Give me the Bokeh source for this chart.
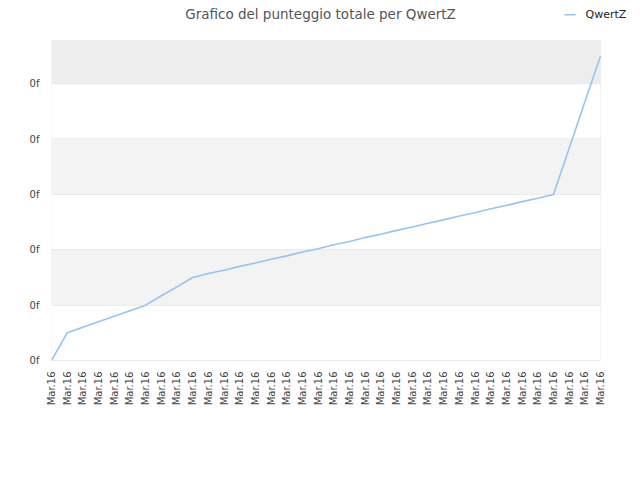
import math
from bokeh.plotting import figure
from bokeh.models import (ColumnDataSource, FixedTicker, BoxAnnotation, Label,
                          Range1d)
from bokeh.embed import file_html
from bokeh.resources import INLINE

# ---- data ----
x_labels = ["Mar.16"] * 36
scores = [0.0, 0.5, 0.6, 0.7, 0.8, 0.9, 1.0, 1.17, 1.33, 1.5,
          1.57, 1.63, 1.70, 1.76, 1.83, 1.89, 1.96, 2.02, 2.09, 2.15,
          2.22, 2.28, 2.35, 2.41, 2.48, 2.54, 2.61, 2.67, 2.74, 2.80,
          2.87, 2.93, 3.0, 3.83, 4.67, 5.5]
y_ticks = [0, 1, 2, 3, 4, 5]
y_tick_labels = ["0f", "0f", "0f", "0f", "0f", "0f"]
series_name = "QwertZ"
title_text = "Grafico del punteggio totale per QwertZ"

idx = list(range(len(x_labels)))
src = ColumnDataSource(dict(x=idx, y=scores))

FONT = "DejaVu Sans"
LINE_COLOR = "#94c4f2"
BORDER = "#d8d8d8"

# ---- layout geometry (pixels) ----
W, H = 630, 464
PLOT_L, PLOT_R, PLOT_T, PLOT_B = 51, 600, 40, 360
X_MAX = len(x_labels) - 1
Y_TOP = 5.78                      # value at the top edge of the plot area
kx = (PLOT_R - PLOT_L) / X_MAX    # px per x unit
ky = (PLOT_B - PLOT_T) / Y_TOP    # px per y unit


def sx(px):
    return (px - PLOT_L) / kx


def sy(py):
    return (PLOT_B - py) / ky


# the frame covers the whole canvas above / right of the axes, so that the
# title and the legend (drawn as annotations) are not clipped
p = figure(width=W, height=H, output_backend="svg", toolbar_location=None,
           title_location=None,
           x_range=Range1d(0, sx(W)), y_range=Range1d(0, sy(0)),
           min_border_left=PLOT_L, min_border_right=0,
           min_border_top=0, min_border_bottom=H - PLOT_B)
p.outline_line_color = None
p.background_fill_color = "white"
p.border_fill_color = "white"
p.xgrid.visible = False
p.ygrid.visible = False

# alternating bands
for b, t, c in [(1, 2, "#f3f3f3"), (3, 4, "#f3f3f3"), (5, Y_TOP, "#ededed")]:
    p.add_layout(BoxAnnotation(left=0, right=X_MAX, bottom=b, top=t,
                               fill_color=c, fill_alpha=1.0, line_alpha=0,
                               level="underlay"))

# horizontal grid lines at the y ticks
p.segment(x0=[0] * len(y_ticks), x1=[X_MAX] * len(y_ticks), y0=y_ticks, y1=y_ticks,
          line_color="#dedede", line_width=1, level="underlay")

# plot-area border
p.add_layout(BoxAnnotation(left=0, right=X_MAX, bottom=0, top=Y_TOP,
                           fill_alpha=0, line_color=BORDER, line_width=1,
                           level="underlay"))

# axes
p.xaxis.ticker = FixedTicker(ticks=idx)
p.xaxis.major_label_overrides = {i: lab for i, lab in zip(idx, x_labels)}
p.xaxis.major_label_orientation = math.pi / 2
p.yaxis.ticker = FixedTicker(ticks=y_ticks)
p.yaxis.major_label_overrides = {t: lab for t, lab in zip(y_ticks, y_tick_labels)}
for ax in (p.xaxis, p.yaxis):
    ax.major_tick_out = 0
    ax.major_tick_in = 0
    ax.minor_tick_out = 0
    ax.minor_tick_in = 0
    ax.axis_line_color = None
    ax.major_label_text_font = FONT
    ax.major_label_text_font_size = "10px"
    ax.major_label_text_color = "#444444"
p.xaxis.major_label_standoff = 11
p.yaxis.major_label_standoff = 12

# series
p.line("x", "y", source=src, line_color=LINE_COLOR, line_width=1.6)

# title
p.add_layout(Label(x=sx(320), y=sy(13), text=title_text, text_align="center",
                   text_baseline="middle", text_font=FONT, text_font_size="13.5px",
                   text_color="#555555"))

# legend (key + label)
p.add_layout(BoxAnnotation(left=sx(564), right=sx(575), bottom=sy(15.1), top=sy(13.5),
                           fill_color=LINE_COLOR, fill_alpha=1.0, line_alpha=0))
p.add_layout(Label(x=sx(585), y=sy(14.3), text=series_name, text_align="left",
                   text_baseline="middle", text_font=FONT, text_font_size="11px",
                   text_color="#222222"))

open("out.html", "w").write(file_html(p, INLINE))
